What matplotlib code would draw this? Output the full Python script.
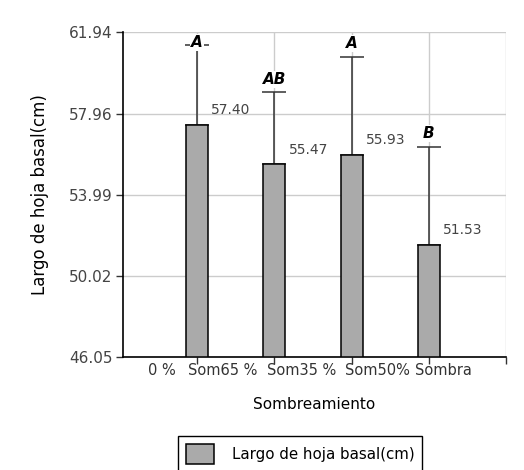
import numpy as np
import matplotlib.pyplot as plt

# datos
categorias = ["0 %", "Som65 %", "Som35 %", "Som50%", "Sombra"]
pos_etiquetas = [-0.636, -0.118, 0.905, 1.916, 2.822]   # inicio de cada texto del eje x
medias = [57.40, 55.47, 55.93, 51.53]
error_sup = [3.94, 3.53, 4.82, 4.81]
letras = ["A", "AB", "A", "B"]
yticks = [46.05, 50.02, 53.99, 57.96, 61.94]

plt.rcParams['font.family'] = ['DejaVu Sans']

fig = plt.figure(figsize=(5.24, 4.70), dpi=100)
ax = fig.add_axes([0.2347, 0.2404, 0.731, 0.691])

x = np.arange(len(medias))
base = yticks[0]
ax.bar(x, np.array(medias) - base, bottom=base, width=0.285,
       color="#aaaaaa", edgecolor="black", linewidth=1.1, zorder=3,
       label="Largo de hoja basal(cm)")
ax.errorbar(x, medias, yerr=[np.zeros(len(medias)), error_sup], fmt="none",
            ecolor="#333333", elinewidth=1.1, capsize=8.3, capthick=1.1, zorder=2)

top = yticks[-1]
for i in range(len(medias)):
    ax.text(x[i] + 0.44, medias[i] + 0.72, f"{medias[i]:.2f}", ha="center",
            va="center", fontsize=10, color="#444444", zorder=4)
    cap = medias[i] + error_sup[i]
    ytxt = min(cap + 1.0, top - 0.13)
    ax.text(x[i], ytxt, letras[i], ha="center", va="top", fontsize=11,
            fontweight="bold", fontstyle="italic", zorder=4,
            bbox=dict(facecolor="white", edgecolor="none", pad=0.5))

ax.set_xlim(-0.96, 4.0)
ax.set_ylim(yticks[0], yticks[-1])
ax.set_yticks(yticks)
ax.set_yticklabels([f"{v:.2f}" for v in yticks])
ax.set_xticks(np.arange(5))
ax.set_xticklabels([])

# etiquetas del eje x (se superponen como en el original)
trans = ax.get_xaxis_transform()
for xp, lab in zip(pos_etiquetas, categorias):
    ax.text(xp, -0.04, lab, transform=trans, ha="left", va="center",
            fontsize=10.5, color="#333333", clip_on=False)

ax.grid(True, color="#cccccc", linewidth=1.0, zorder=0)
ax.set_axisbelow(True)
for s in ["top", "right"]:
    ax.spines[s].set_visible(False)
ax.spines["left"].set_linewidth(1.2)
ax.spines["bottom"].set_linewidth(1.2)
ax.tick_params(axis="y", labelsize=11, length=5, width=1.0, color="#333333",
               labelcolor="#444444", pad=2.5)
ax.tick_params(axis="x", length=5, width=1.0, color="#333333")

ax.set_xlabel("Sombreamiento", fontsize=11, labelpad=20)
ax.set_ylabel("Largo de hoja basal(cm)", fontsize=12, labelpad=14)

fig.legend(loc="upper left", bbox_to_anchor=(178 / 524, 1 - 436 / 470),
           bbox_transform=fig.transFigure, borderaxespad=0, fontsize=10.8,
           frameon=True, fancybox=False, edgecolor="black", handlelength=1.9,
           handleheight=1.75, handletextpad=1.2, borderpad=0.5,
           framealpha=1)

fig.savefig("out.png", dpi=100)
